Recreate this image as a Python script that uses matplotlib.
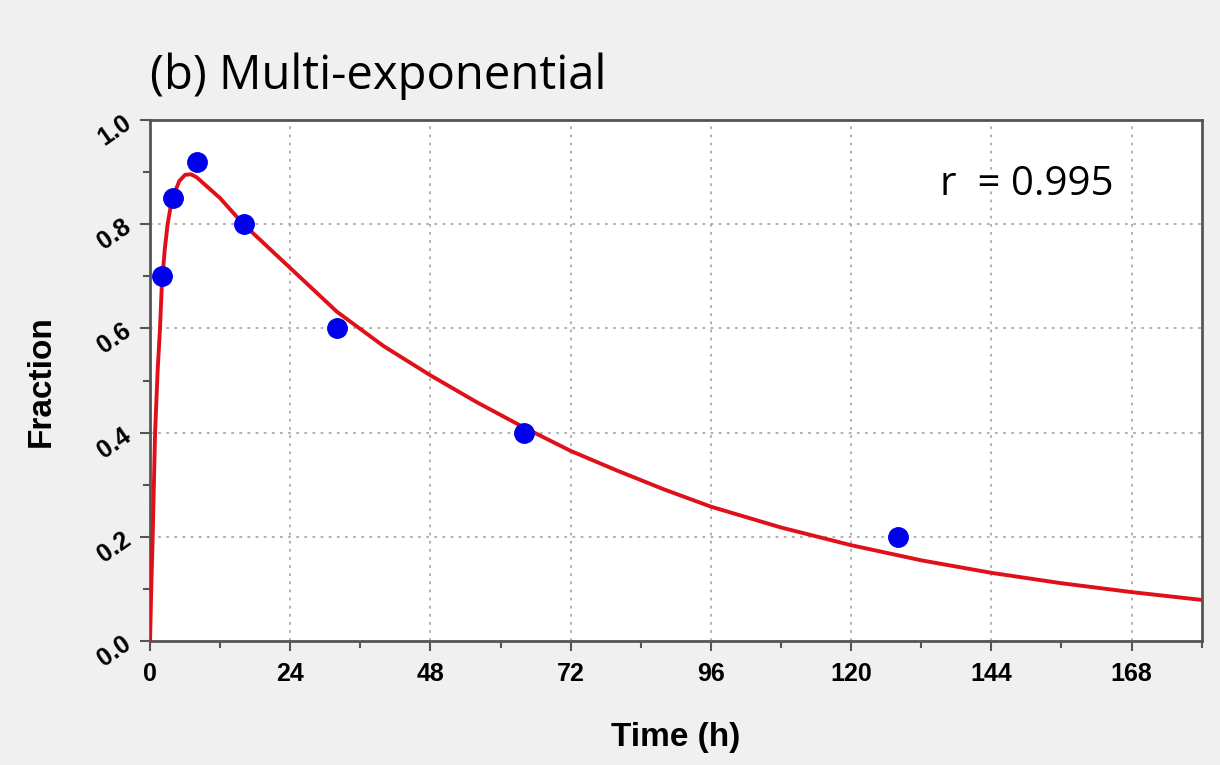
import numpy as np
import matplotlib
matplotlib.use("Agg")
import matplotlib.pyplot as plt
from matplotlib.ticker import MultipleLocator

# measured points
time_h = [2, 4, 8, 16, 32, 64, 128]
fraction = [0.70, 0.85, 0.92, 0.80, 0.60, 0.40, 0.20]

# fitted multi-exponential curve
fit_t = [0, 0.2, 0.45, 0.86, 1.3, 1.7, 2.0, 2.5, 3, 3.5, 4, 5, 6, 7, 8, 10, 12, 14,
         16, 20, 24, 28, 32, 40, 48, 56, 64, 72, 80, 88, 96, 108, 120, 132, 144,
         156, 168, 180]
fit_y = [0, 0.10, 0.20, 0.40, 0.52, 0.60, 0.68, 0.75, 0.80, 0.832, 0.855, 0.883,
         0.895, 0.896, 0.89, 0.87, 0.85, 0.825, 0.80, 0.758, 0.716, 0.674, 0.632,
         0.566, 0.51, 0.458, 0.41, 0.365, 0.327, 0.291, 0.258, 0.218, 0.184,
         0.155, 0.131, 0.111, 0.094, 0.079]

x_ticks = [0, 24, 48, 72, 96, 120, 144, 168]
y_ticks = [0.0, 0.2, 0.4, 0.6, 0.8, 1.0]
r_text = "r  = 0.995"

fig = plt.figure(figsize=(12.2, 7.65), dpi=100, facecolor="#f0f0f0")
ax = fig.add_axes([0.123, 0.162, 0.862, 0.681])
ax.set_facecolor("white")

ax.plot(fit_t, fit_y, color="#e0101a", lw=2.8, zorder=3)
ax.plot(time_h, fraction, "o", color="#0000ee", markersize=14, zorder=4)

ax.set_xlim(0, 180)
ax.set_ylim(0, 1.0)
ax.set_xticks(x_ticks)
ax.set_yticks(y_ticks)
ax.xaxis.set_minor_locator(MultipleLocator(12))
ax.yaxis.set_minor_locator(MultipleLocator(0.1))
ax.grid(True, which="major", color="#aaaaaa", linestyle=(0, (1.5, 3)), lw=1.3)

for s in ax.spines.values():
    s.set_color("#555555")
    s.set_linewidth(2)

ax.tick_params(which="major", length=7, width=1.5, color="#555555")
ax.tick_params(which="minor", length=5, width=1.5, color="#555555")
ax.tick_params(axis="x", pad=8)
ax.set_xticklabels([str(v) for v in x_ticks], fontsize=18, fontweight="bold",
                   family="Liberation Sans")
ax.set_yticklabels(["%.1f" % v for v in y_ticks], fontsize=18, fontweight="bold",
                   family="Liberation Sans", rotation=35)

ax.set_xlabel("Time (h)", fontsize=24, fontweight="bold", family="Liberation Sans", labelpad=26)
ax.set_ylabel("Fraction", fontsize=24, fontweight="bold", family="Liberation Sans", labelpad=26)

ax.text(150, 0.875, r_text, fontsize=29, family="Open Sans", ha="center", va="center")
fig.text(0.123, 0.9, "(b) Multi-exponential", fontsize=34, family="Open Sans",
         ha="left", va="center")

fig.savefig("out.png", dpi=100, facecolor=fig.get_facecolor())
